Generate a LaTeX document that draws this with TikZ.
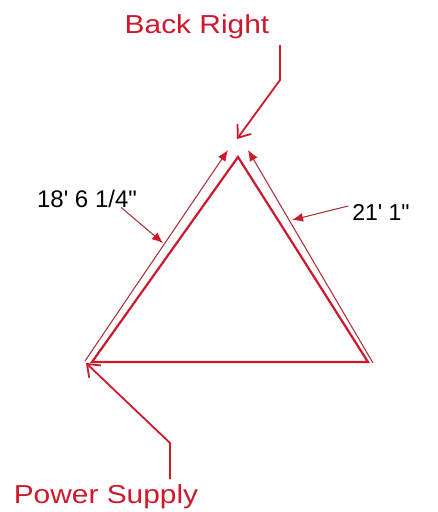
\documentclass[tikz,border=0pt]{standalone}
\usepackage{fontspec}
\setmainfont{Liberation Sans}
\newfontfamily\widesans[FakeStretch=1.15]{Liberation Sans}
\newfontfamily\dimfont{Liberation Sans}
\usetikzlibrary{arrows.meta}
\definecolor{dred}{RGB}{205,25,45}
\definecolor{thinred}{RGB}{170,55,60}
\begin{document}
\begin{tikzpicture}[x=1pt,y=-1pt,
  edge/.style={draw=dred,line width=2.2pt,line join=miter},
  rail/.style={draw=thinred,line width=1.1pt,-{Latex[length=11pt,width=9pt,color=dred]}},
  pointer/.style={draw=thinred,line width=1.1pt,-{Latex[length=11pt,width=9pt,color=dred]}},
  leader/.style={draw=dred,line width=1.8pt,-{Straight Barb[length=11pt,width=17pt,line width=1.8pt]}},
  redlabel/.style={text=dred,font=\widesans\fontsize{26}{30}\selectfont,anchor=base,inner sep=0pt},
  dimlabel/.style={text=black,anchor=base,inner sep=0pt}]
\useasboundingbox (0,0) rectangle (437,512);
% vertices
\coordinate (apex) at (238,157);
\coordinate (L) at (92,362);
\coordinate (R) at (368,362);
\coordinate (lbot) at (85,361);
\coordinate (ltop) at (228,150);
\coordinate (rbot) at (373,363);
\coordinate (rtop) at (248,150);
% triangle
\draw[edge] (L) -- (apex) -- (R) -- cycle;
% parallel measuring rails
\draw[rail] (lbot) -- (ltop);
\draw[rail] (rbot) -- (rtop);
% labels
\node[redlabel] (back) at (197,33) {Back Right};
\node[redlabel] (power) at (106,503) {Power Supply};
\node[dimlabel,font=\dimfont\fontsize{24}{28}\selectfont] (left) at (87,207) {18' 6 1/4"};
\node[dimlabel,font=\dimfont\fontsize{23}{27}\selectfont] (right) at (381,220) {21' 1"};
% pointers to rails
\coordinate (lp) at (163,243);
\coordinate (rp) at (292,220);
\draw[pointer] (left.south east) ++(-16,0) -- (lp);
\draw[pointer] (right.west) ++(-4,-6) -- (rp);
% leaders
\coordinate (b1) at (280,45);
\coordinate (b2) at (280,80);
\coordinate (bt) at (237,139);
\draw[leader] (b1) -- (b2) -- (bt);
\coordinate (p1) at (170,479);
\coordinate (p2) at (170,443);
\coordinate (pt) at (86,363);
\draw[leader] (p1) -- (p2) -- (pt);
\end{tikzpicture}
\end{document}
